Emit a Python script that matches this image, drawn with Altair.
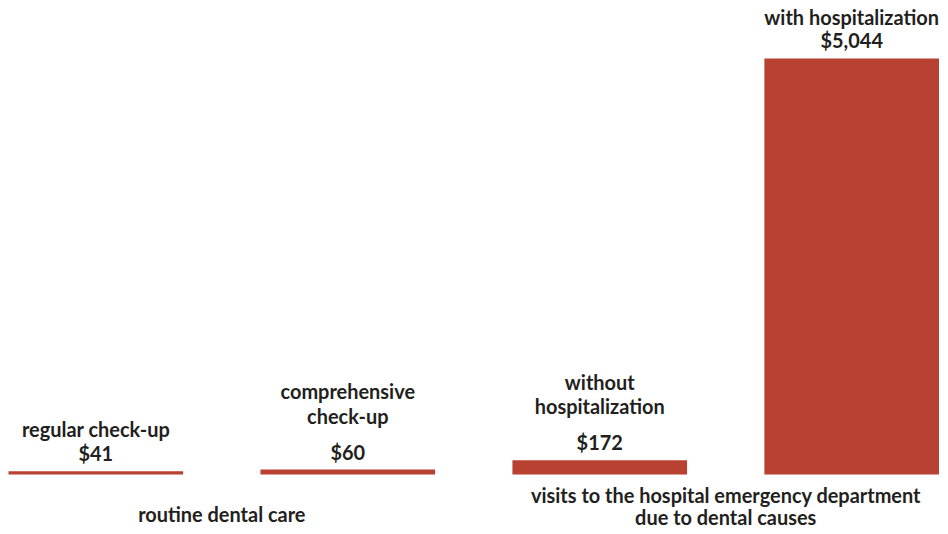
import altair as alt
import pandas as pd

names = ["regular check-up", "comprehensive\ncheck-up", "without\nhospitalization", "with hospitalization"]
values = [41, 60, 172, 5044]
groups = [
    "routine dental care",
    "routine dental care",
    "visits to the hospital emergency department\ndue to dental causes",
    "visits to the hospital emergency department\ndue to dental causes",
]
order = [0, 1, 2, 3]

df = pd.DataFrame({"name": names, "value": values, "group": groups, "idx": order})

FONT = "Lato"
FS = 20
TXT = "#231f20"
BAR = "#b94131"

xscale = alt.Scale(domain=[-0.3446, 3.3465], nice=False, zero=False, padding=0)
yscale = alt.Scale(domain=[0, 5649], nice=False, padding=0)

base = alt.Chart(df)
X = alt.X("idx:Q", scale=xscale, axis=None)
Y = alt.Y("value:Q", scale=yscale, axis=None)

bars = base.mark_bar(color=BAR, size=175).encode(x=X, y=Y)

def txt(**kw):
    return dict(font=FONT, fontSize=FS, fontWeight="bold", color=TXT, baseline="middle", **kw)

vals = base.transform_calculate(
    lab="'$' + format(datum.value, ',')"
).mark_text(**txt(dy=-16)).encode(x=X, y=Y, text="lab:N")

nb = base.transform_calculate(
    parts="split(datum.name, '\\n')"
).transform_calculate(
    n="length(datum.parts)",
    last="datum.parts[length(datum.parts) - 1]",
    first="datum.parts[0]",
)

single = nb.transform_filter("datum.n == 1").mark_text(**txt(dy=-40)).encode(
    x=X, y=Y, text="last:N")
two_last = nb.transform_filter("datum.n > 1").mark_text(**txt(dy=-52)).encode(
    x=X, y=Y, text="last:N")
two_first = nb.transform_filter("datum.n > 1").mark_text(**txt(dy=-77)).encode(
    x=X, y=Y, text="first:N")

gb = base.transform_aggregate(
    cx="mean(idx)", groupby=["group"]
).transform_calculate(
    parts="split(datum.group, '\\n')"
).transform_calculate(
    n="length(datum.parts)",
    last="datum.parts[length(datum.parts) - 1]",
    first="datum.parts[0]",
)
GX = alt.X("cx:Q", scale=xscale, axis=None)
g_single = gb.transform_filter("datum.n == 1").mark_text(**txt()).encode(
    x=GX, y=alt.value(509), text="last:N")
g_last = gb.transform_filter("datum.n > 1").mark_text(**txt()).encode(
    x=GX, y=alt.value(512), text="last:N")
g_first = gb.transform_filter("datum.n > 1").mark_text(**txt()).encode(
    x=GX, y=alt.value(490), text="first:N")

chart = alt.layer(
    bars, vals, single, two_last, two_first, g_single, g_last, g_first
).properties(
    width=932, height=467, padding=0
).configure_view(stroke=None)

chart.save("out.html", embed_options={"renderer": "svg", "actions": False})
